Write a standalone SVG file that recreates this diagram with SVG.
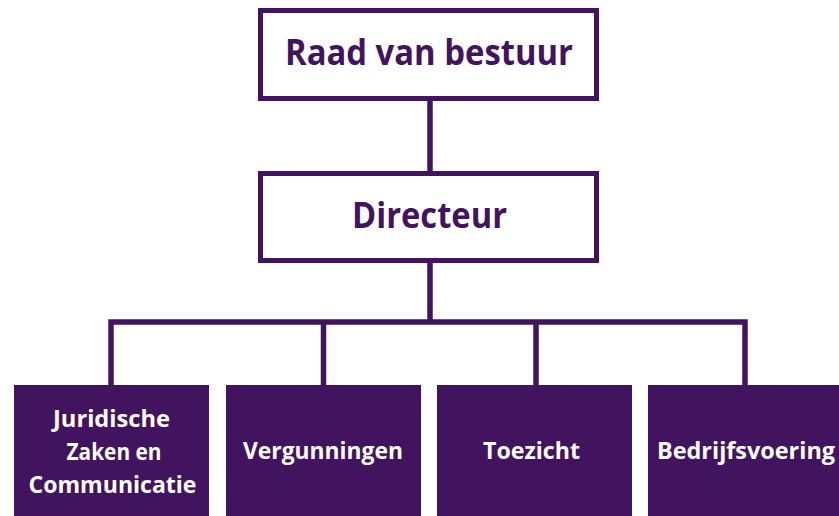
<svg xmlns="http://www.w3.org/2000/svg" width="839" height="516" viewBox="0 0 839 516">
<style>
.box{fill:#fff;stroke:#42145f;stroke-width:5}
.dept{fill:#42145f}
.conn{stroke:#42145f;stroke-width:5.5;fill:none;stroke-linecap:square}
.t{font-family:"Open Sans","Noto Sans",sans-serif;font-weight:bold;text-anchor:middle}
.tl{fill:#42145f}
.tw{fill:#fff;font-size:24px}
</style>
<rect width="839" height="516" fill="#fff"/>
<g id="connectors">
<path class="conn" d="M430 99 V172 M430 262 V322 M111 322 H745 M111 322 V384 M323.5 322 V384 M536 322 V384 M745 322 V384"/>
</g>
<g id="raad">
<rect class="box" x="260.5" y="10.5" width="336" height="88"/>
<text class="t tl" x="429" y="65" font-size="35" textLength="288" lengthAdjust="spacingAndGlyphs">Raad van bestuur</text>
</g>
<g id="directeur">
<rect class="box" x="260.5" y="173.5" width="336" height="87"/>
<text class="t tl" x="429.5" y="228" font-size="36" textLength="155" lengthAdjust="spacingAndGlyphs">Directeur</text>
</g>
<g id="juridische">
<rect class="dept" x="14" y="385" width="195" height="131"/>
<text class="t tw" x="111.5" y="426.7" textLength="117" lengthAdjust="spacingAndGlyphs">Juridische</text>
<text class="t tw" x="114" y="459.5" textLength="95" lengthAdjust="spacingAndGlyphs">Zaken en</text>
<text class="t tw" x="112.5" y="493" textLength="168" lengthAdjust="spacingAndGlyphs">Communicatie</text>
</g>
<g id="vergunningen">
<rect class="dept" x="226" y="385" width="195" height="131"/>
<text class="t tw" x="323" y="459" textLength="160" lengthAdjust="spacingAndGlyphs">Vergunningen</text>
</g>
<g id="toezicht">
<rect class="dept" x="437" y="385" width="195" height="131"/>
<text class="t tw" x="531.5" y="459" textLength="97" lengthAdjust="spacingAndGlyphs">Toezicht</text>
</g>
<g id="bedrijfsvoering">
<rect class="dept" x="648" y="385" width="195" height="131"/>
<text class="t tw" x="746" y="459" textLength="178" lengthAdjust="spacingAndGlyphs">Bedrijfsvoering</text>
</g>
</svg>
